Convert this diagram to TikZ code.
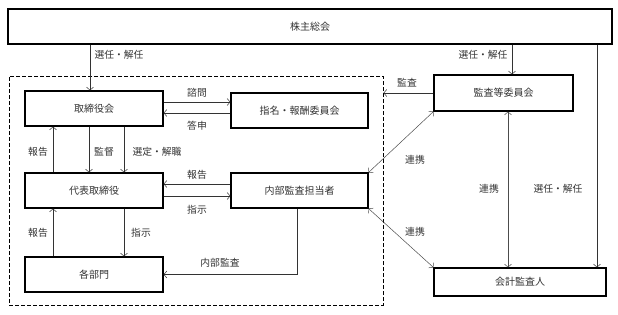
\documentclass[tikz,border=0pt]{standalone}
\usepackage{fontspec}
\setmainfont{Noto Sans CJK JP}
\usetikzlibrary{arrows.meta}
\tikzset{
  box/.style={draw=black, line width=1.1pt, minimum width=138pt, minimum height=35pt, inner sep=0pt, font=\fontsize{10}{11}\selectfont, text=black!80},
  grpbox/.style={draw=black, line width=0.9pt, dash pattern=on 4pt off 2pt, minimum width=374pt, minimum height=229pt, inner sep=0pt},
  arr/.style={draw=black!80, line width=0.5pt, -{Straight Barb[length=3pt,width=7pt]}},
  arrtwo/.style={draw=black!70, line width=0.5pt, {Straight Barb[length=3pt,width=7pt]}-{Straight Barb[length=3pt,width=7pt]}},
  lbl/.style={font=\fontsize{9.8}{10}\selectfont, text=black!80, inner sep=0pt}
}
\begin{document}
\begin{tikzpicture}[x=1pt,y=-1pt]
\useasboundingbox (0,0) rectangle (618,315);
% boxes
\node[box, minimum width=604pt, line width=1.5pt] (sh) at (310,26.5) {株主総会};
\node[grpbox] (grp) at (196,190.5) {};
\node[box] (tb) at (94,108.5) {取締役会};
\node[box, minimum width=137pt] (nc) at (299.5,110.5) {指名・報酬委員会};
\node[box] (ceo) at (94,190.5) {代表取締役};
\node[box, minimum width=137pt] (ia) at (299.5,190.5) {内部監査担当者};
\node[box] (dep) at (94,274.5) {各部門};
\node[box, minimum width=139pt, minimum height=36pt] (ac) at (503.5,93) {監査等委員会};
\node[box, minimum width=172pt, minimum height=28pt] (ea) at (520,282) {会計監査人};
% shareholders' arrows
\draw[arr] ([xshift=-4pt]tb.north |- sh.south) -- ([xshift=-4pt]tb.north);
\node[lbl] (l1) at (119,55) {選任・解任};
\draw[arr] ([xshift=8.5pt]ac.north |- sh.south) -- ([xshift=8.5pt]ac.north);
\node[lbl] (l2) at (483,55) {選任・解任};
\draw[arr] ([xshift=77pt]ea.north |- sh.south) -- ([xshift=77pt]ea.north);
\node[lbl] (l3) at (558,189) {選任・解任};
% audit
\draw[arr] (ac.west) -- (ac.west -| grp.east);
\node[lbl] (l4) at (407,83) {監査};
% board <-> committee
\draw[arr] ([yshift=6.5pt]tb.east) -- ([yshift=6.5pt]tb.east -| nc.west);
\node[lbl] (l5) at (197,93) {諮問};
\draw[arr] ([yshift=-4.5pt]tb.east -| nc.west) -- ([yshift=-4.5pt]tb.east);
\node[lbl] (l6) at (197,126) {答申};
% board <-> ceo
\draw[arr] ([xshift=-5pt]tb.south) -- ([xshift=-5pt]ceo.north);
\node[lbl] (l7) at (104,152) {監督};
\draw[arr] ([xshift=30pt]tb.south) -- ([xshift=30pt]ceo.north);
\node[lbl] (l8) at (157,152) {選定・解職};
\draw[arr] ([xshift=-41pt]ceo.north) -- ([xshift=-41pt]tb.south);
\node[lbl] (l9) at (38,152) {報告};
% ceo <-> internal audit
\draw[arr] ([yshift=6.5pt]ceo.east -| ia.west) -- ([yshift=6.5pt]ceo.east);
\node[lbl] (l10) at (197,175) {報告};
\draw[arr] ([yshift=-5.5pt]ceo.east) -- ([yshift=-5.5pt]ceo.east -| ia.west);
\node[lbl] (l11) at (197,210) {指示};
% ceo <-> departments
\draw[arr] ([xshift=30pt]ceo.south) -- ([xshift=30pt]dep.north);
\node[lbl] (l12) at (141,233) {指示};
\draw[arr] ([xshift=-41pt]dep.north) -- ([xshift=-41pt]ceo.south);
\node[lbl] (l13) at (38,233) {報告};
% internal audit -> departments
\draw[arr] ([xshift=-2.5pt]ia.south) |- (dep.east);
\node[lbl] (l14) at (220,263) {内部監査};
% cooperation
\draw[arrtwo] (ac.south west) -- (ia.north east);
\node[lbl] (l15) at (415,160) {連携};
\draw[arrtwo] (ia.south east) -- (ea.north west);
\node[lbl] (l16) at (415,232) {連携};
\draw[arrtwo] ([xshift=4.5pt]ac.south) -- ([xshift=4.5pt]ac.south |- ea.north);
\node[lbl] (l17) at (489,189) {連携};
\end{tikzpicture}
\end{document}
